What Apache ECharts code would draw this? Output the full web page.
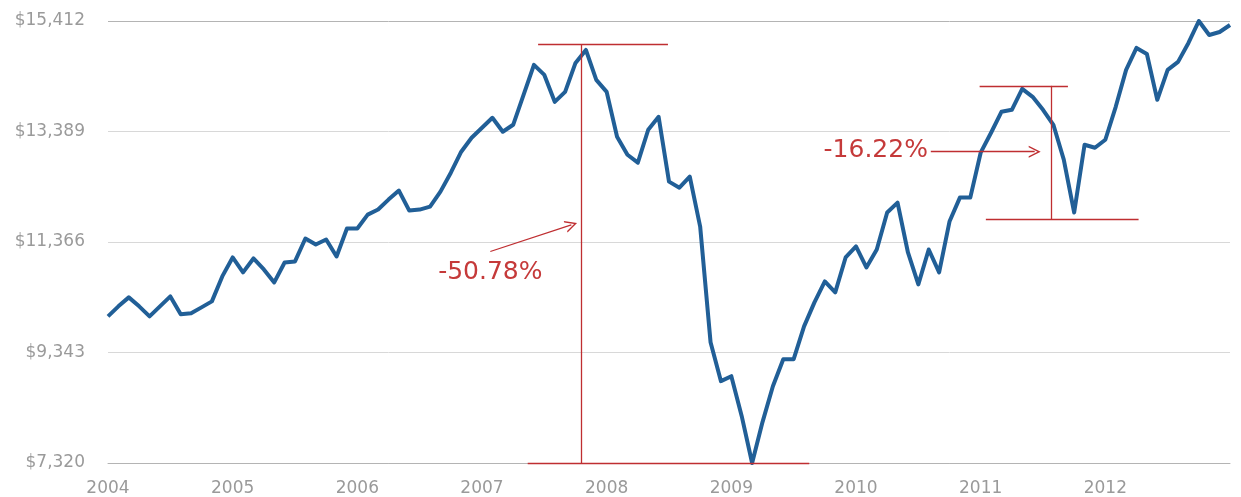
<!DOCTYPE html>
<html>
<head>
<meta charset="utf-8">
<script src="https://cdn.jsdelivr.net/npm/echarts@6/dist/echarts.min.js"></script>
<style>
  html, body { margin: 0; padding: 0; background: #fff; }
  #chart { width: 1241px; height: 497px; }
</style>
</head>
<body>
<div id="chart"></div>
<script>
var startYear = 2004;
var yTicks = [7320, 9343, 11366, 13389, 15412];

// monthly balance, Jan 2004 .. Jan 2013
var balance = [
  10005, 10188, 10352, 10188, 10005, 10188, 10370, 10042, 10060, 10169, 10279, 10736,
  11083, 10809, 11065, 10864, 10626, 10991, 11010, 11430, 11320, 11412, 11101, 11613,
  11613, 11868, 11960, 12142, 12307, 11941, 11960, 12014, 12288, 12635, 13019, 13275,
  13457, 13640, 13384, 13512, 14060, 14608, 14425, 13932, 14115, 14645, 14882, 14334,
  14115, 13293, 12964, 12818, 13421, 13658, 12471, 12361, 12562, 11649, 9530, 8818,
  8909, 8178, 7320, 8069, 8726, 9220, 9220, 9822, 10261, 10644, 10443, 11083,
  11284, 10900, 11229, 11905, 12087, 11174, 10590, 11229, 10809, 11740, 12179, 12179,
  13001, 13366, 13750, 13786, 14170, 14024, 13786, 13512, 12873, 11905, 13147, 13092,
  13238, 13841, 14517, 14919, 14809, 13969, 14517, 14663, 15010, 15412, 15156, 15211,
  15339
];

// drawdown annotations, in month index / dollar coordinates
var crashLines = [
  [[41.4, 14992], [53.9, 14992]],
  [[45.6, 14992], [45.6, 7320]],
  [[40.4, 7320], [67.5, 7320]],
  [[83.9, 14225], [92.4, 14225]],
  [[90.8, 14225], [90.8, 11777]],
  [[84.5, 11777], [99.2, 11777]]
];
var arrows = [
  [[36.8, 11192], [44.6, 11680]],
  [[79.2, 13019], [89.2, 13019]]
];
var labels = [
  { name: '-50.78%', coord: [36.8, 10810] },
  { name: '-16.22%', coord: [73.9, 13040] }
];

var red = '#bf2e31';
var chevron = 'path://M0,10 L5,0 L10,10 L8.8,10 L5,2.6 L1.2,10 Z';

var lineData = balance.map(function (v, i) { return [i, v]; });

var markLines = crashLines.map(function (l) {
  return [{ coord: l[0] }, { coord: l[1] }];
}).concat(arrows.map(function (l) {
  return [{ coord: l[0] }, { coord: l[1], symbol: chevron, symbolSize: [12, 12] }];
}));

var chart = echarts.init(document.getElementById('chart'));
chart.setOption({
  animation: false,
  grid: { left: 108, right: 11, top: 21, bottom: 33 },
  xAxis: {
    type: 'value',
    min: 0,
    max: balance.length - 1,
    interval: 12,
    axisLine: { show: true, lineStyle: { color: '#b4b4b4', width: 1 } },
    axisTick: { show: false },
    splitLine: { show: false },
    axisLabel: {
      showMaxLabel: false,
      margin: 17,
      color: '#9a9a9a',
      fontFamily: 'DejaVu Sans',
      fontSize: 17,
      formatter: function (v) { return String(startYear + v / 12); }
    }
  },
  yAxis: {
    type: 'value',
    min: yTicks[0],
    max: yTicks[yTicks.length - 1],
    axisLine: { show: false },
    axisTick: { show: false, customValues: yTicks },
    splitLine: {
      show: true,
      lineStyle: { color: ['#b8b8b8', '#d8d8d8', '#d8d8d8', '#d8d8d8', '#b4b4b4'], width: 1 }
    },
    axisLabel: {
      customValues: yTicks,
      margin: 23,
      color: '#9a9a9a',
      fontFamily: 'DejaVu Sans',
      fontSize: 17,
      formatter: function (v) { return '$' + v.toLocaleString('en-US'); }
    }
  },
  series: [{
    type: 'line',
    data: lineData,
    showSymbol: false,
    symbol: 'none',
    lineStyle: { color: '#215f97', width: 4, join: 'round' },
    markLine: {
      silent: true,
      symbol: ['none', 'none'],
      label: { show: false },
      lineStyle: { color: red, width: 1.3, type: 'solid' },
      data: markLines
    },
    markPoint: {
      silent: true,
      symbol: 'circle',
      symbolSize: 1,
      itemStyle: { color: 'rgba(0,0,0,0)' },
      label: {
        show: true,
        position: 'inside',
        formatter: '{b}',
        color: '#c53a3a',
        fontFamily: 'DejaVu Sans',
        fontSize: 25
      },
      data: labels
    }
  }]
});
</script>
</body>
</html>
